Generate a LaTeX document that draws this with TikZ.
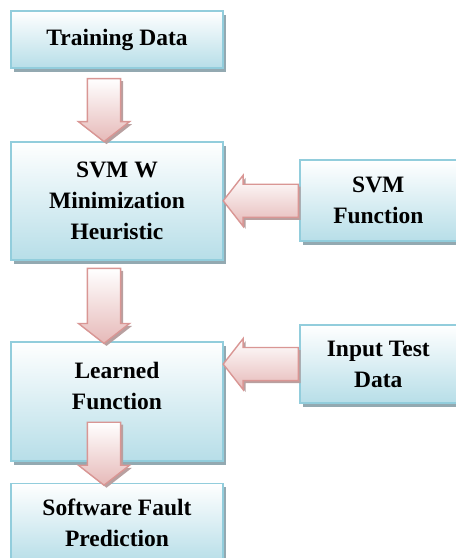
\documentclass[tikz,border=0pt]{standalone}
\usepackage{fontspec}
\setmainfont{Liberation Serif}
\usetikzlibrary{positioning,shapes.arrows,shadows,calc}

\definecolor{boxline}{HTML}{92CDDC}
\definecolor{boxfill}{HTML}{B7DEE8}
\definecolor{boxshadow}{HTML}{93A9B1}
\definecolor{arrowline}{HTML}{D99694}
\definecolor{arrowfill}{HTML}{E6B9B8}
\definecolor{arrowshadow}{HTML}{B8A0A0}

\begin{document}
\begin{tikzpicture}[
        font=\bfseries\fontsize{23.5}{31}\selectfont,
        box/.style={
            draw=boxline,
            line width=1.8pt,
            top color=white,
            bottom color=boxfill,
            align=center,
            inner sep=4pt,
            general shadow={fill=boxshadow, shadow xshift=3pt, shadow yshift=-4pt}
        },
        fatarrow/.style={
            single arrow,
            draw=arrowline,
            line width=1.4pt,
            top color=white,
            bottom color=arrowfill,
            inner sep=12.5pt,
            minimum width=51pt,
            single arrow tip angle=104,
            general shadow={fill=arrowshadow, shadow xshift=2.5pt, shadow yshift=-2.5pt}
        },
        fatdown/.style={fatarrow, shape border rotate=270, anchor=tail},
        fatleft/.style={fatarrow, shape border rotate=180, anchor=tail}
    ]
    \useasboundingbox (0,0) rectangle (456pt,-558pt);

    % Linke Spalte
    \node[box, minimum width=212pt, minimum height=57pt] (train) at (117pt,-39.5pt)
        {Training Data};

    \node[box, minimum width=212pt, minimum height=118pt, below=72pt of train] (svmw)
        {SVM W\\Minimization\\Heuristic};

    \node[box, minimum width=212pt, minimum height=119pt, below=80pt of svmw] (learned)
        {Learned\\Function\\\mbox{}};

    \node[box, minimum width=212pt, minimum height=79pt, below=21pt of learned] (soft)
        {Software Fault\\Prediction};

    % Rechte Spalte
    \node[box, minimum width=157pt, minimum height=81pt, right=75pt of svmw] (svmf)
        {SVM\\Function};

    \node[box, minimum width=157pt, minimum height=78pt, below=82pt of svmf] (input)
        {Input Test\\Data};

    % Pfeile
    \node[fatdown, minimum height=63pt] (a1) at ($(train.south)+(-13pt,-9pt)$) {};
    \node[fatdown, minimum height=75pt] (a2) at ($(svmw.south)+(-13pt,-7pt)$) {};
    \node[fatdown, minimum height=63pt] (a3) at ($(learned.south)+(-13pt,40pt)$) {};
    \node[fatleft, minimum height=75pt] (a4) at (svmf.west) {};
    \node[fatleft, minimum height=75pt] (a5) at (input.west) {};

\end{tikzpicture}
\end{document}
